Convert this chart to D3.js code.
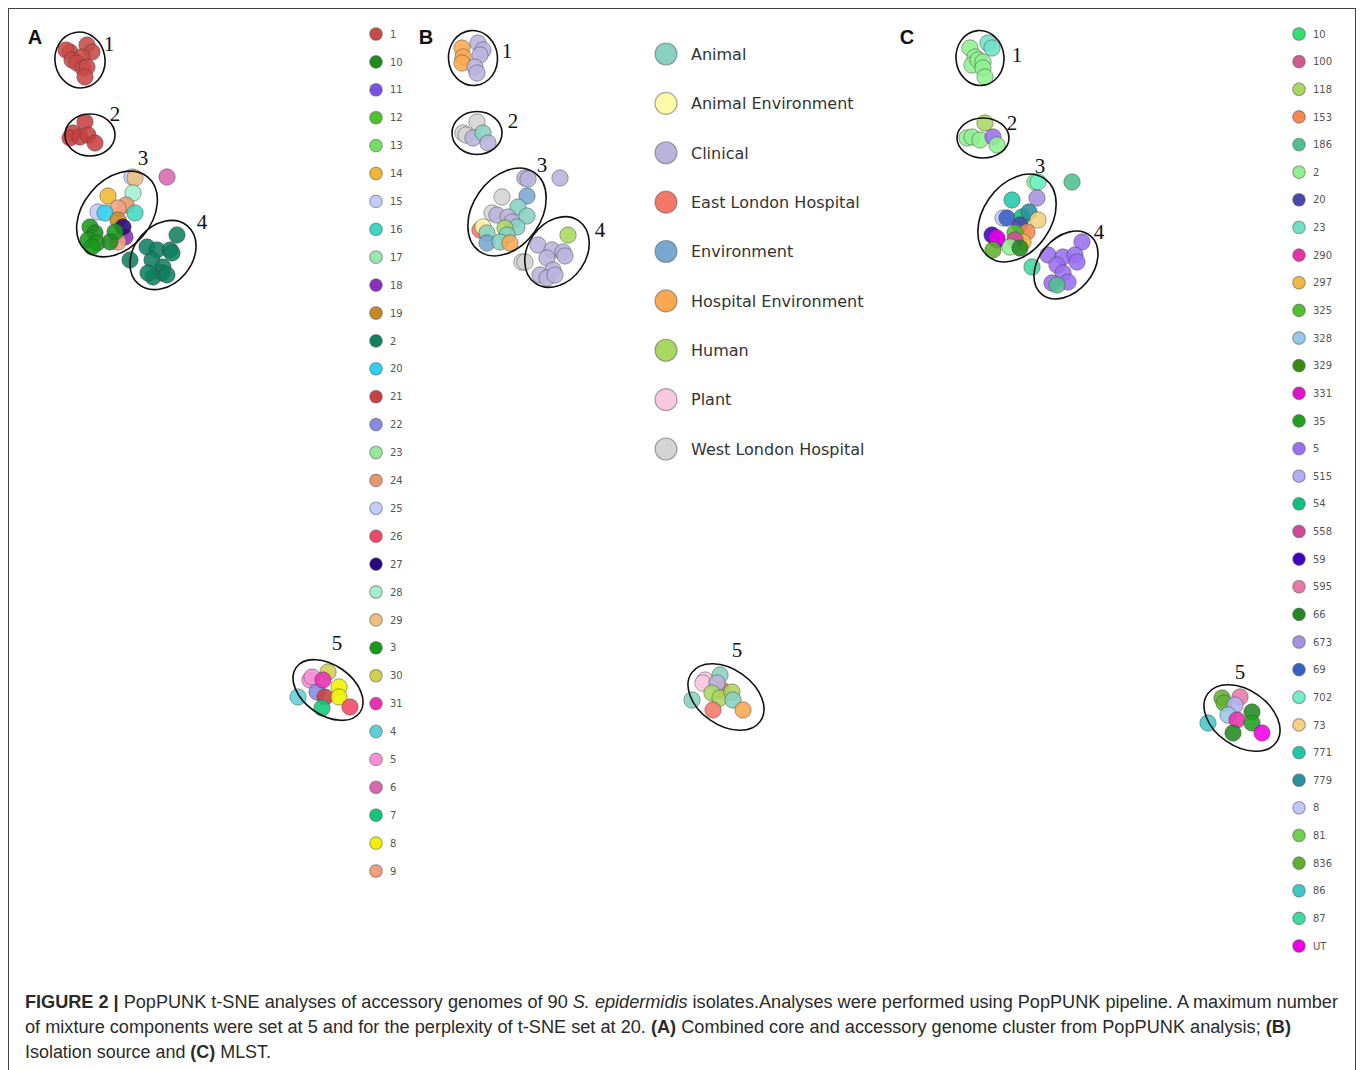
<!DOCTYPE html>
<html><head><meta charset="utf-8">
<script src="https://cdn.jsdelivr.net/npm/d3@7/dist/d3.min.js"></script>
<style>body{margin:0;background:#fff}</style>
</head><body>
<svg id="fig" width="1360" height="1070"></svg>
<script>
// ---------------- DATA ----------------
const panelLabels = ["A", "B", "C"];

// Panel A: PopPUNK cluster legend
const categoriesA = ["1","10","11","12","13","14","15","16","17","18","19","2","20","21","22","23","24","25","26","27","28","29","3","30","31","4","5","6","7","8","9"];
const colorsA = ["#c94a48","#1e8a1e","#7a50e8","#50c030","#72e062","#f0b830","#c2ccf5","#40d8c0","#98e8b0","#8a30b8","#c88a20","#108060","#30d0f0","#c84040","#8a88e0","#98e898","#e8986a","#c0d0f8","#f04868","#2a0880","#a0f0d0","#edc080","#1a9a1a","#d0d050","#e830b0","#60d0d8","#f890d8","#d868b0","#10c878","#f0f000","#f0a080"];

// Panel B: isolation source legend
const categoriesB = ["Animal","Animal Environment","Clinical","East London Hospital","Environment","Hospital Environment","Human","Plant","West London Hospital"];
const colorsB = ["#88d0c0","#fafaa8","#bab4dc","#f47868","#78a8d0","#f8a850","#a8d860","#f8c8e0","#d4d4d4"];

// Panel C: MLST legend
const categoriesC = ["10","100","118","153","186","2","20","23","290","297","325","328","329","331","35","5","515","54","558","59","595","66","673","69","702","73","771","779","8","81","836","86","87","UT"];
const colorsC = ["#30e070","#d05890","#a8d860","#f88850","#50c090","#90f090","#4848a8","#70e0c8","#e830a8","#f0b840","#50c030","#98c8e8","#3a8a10","#e010d0","#20a020","#9a70f0","#b0b0f0","#10c080","#d04898","#4000c0","#e878a8","#208a20","#a890e0","#3a60c8","#70f0c8","#f4d080","#20c8a8","#2a90a0","#c0c8f8","#70d050","#60b030","#40c8c8","#40d8a0","#f000e8"];

// t-SNE coordinates [tsne1, tsne2, category]
const pointsA = [
  [2.0,2.2,"1"],[3.7,1.5,"1"],[4.2,2.2,"1"],[1.6,2.0,"1"],[2.2,3.0,"1"],[3.2,2.7,"1"],[2.7,3.3,"1"],[3.3,3.8,"1"],[3.7,3.7,"1"],[3.5,4.7,"1"],
  [3.5,9.2,"21"],[2.3,10.3,"21"],[2.0,10.8,"21"],[3.0,10.7,"21"],[3.8,10.5,"21"],[4.5,11.3,"21"],
  [8.2,14.7,"25"],[8.5,14.8,"29"],[11.7,14.7,"6"],[5.8,16.6,"14"],[8.3,16.3,"28"],[7.6,17.5,"24"],[6.8,17.8,"9"],[4.8,18.2,"15"],[5.5,18.3,"20"],[8.5,18.3,"16"],[6.8,19.0,"19"],[7.5,20.7,"18"],[7.3,19.7,"27"],[6.8,21.2,"9"],
  [4.0,19.7,"3"],[4.5,20.3,"10"],[3.8,21.0,"3"],[4.7,21.3,"3"],[6.5,20.2,"3"],[6.0,21.2,"10"],[4.2,21.7,"3"],
  [8.0,23.0,"2"],[9.7,21.7,"2"],[10.7,22.0,"2"],[12.0,22.0,"2"],[12.7,20.5,"2"],[10.2,23.0,"2"],[11.3,23.7,"2"],[11.2,24.3,"2"],[10.3,24.7,"2"],[11.7,24.5,"2"],[9.8,24.3,"2"],[12.2,22.3,"2"],
  [24.8,66.7,"4"],[26.0,65.0,"5"],[26.2,64.7,"5"],[27.8,64.2,"30"],[26.7,66.2,"22"],[27.3,65.0,"31"],[27.5,66.7,"21"],[28.9,65.7,"8"],[28.9,66.7,"8"],[27.2,67.8,"7"],[30.0,67.7,"26"]
];
const pointsB = [
  [2.2,1.8,"Hospital Environment"],[2.3,2.7,"Hospital Environment"],[2.2,3.3,"Hospital Environment"],
  [3.8,1.3,"Clinical"],[4.3,2.0,"Clinical"],[4.0,2.5,"Clinical"],[3.5,3.7,"Clinical"],[3.7,4.3,"Clinical"],
  [3.7,9.2,"West London Hospital"],[2.3,10.3,"West London Hospital"],[2.6,10.5,"West London Hospital"],[3.3,10.8,"Clinical"],[4.3,10.3,"Animal"],[4.8,11.3,"Clinical"],
  [8.5,14.8,"Clinical"],[8.8,14.9,"Clinical"],[12.0,14.8,"Clinical"],[6.2,16.7,"West London Hospital"],[8.7,16.6,"Environment"],[5.2,18.3,"West London Hospital"],[5.7,18.5,"Clinical"],[7.8,17.7,"Animal"],[8.7,18.6,"Animal"],[6.8,18.7,"Clinical"],[7.2,19.2,"Clinical"],[7.7,19.7,"Animal"],
  [4.0,20.0,"East London Hospital"],[4.3,19.7,"Animal Environment"],[4.7,20.3,"Animal"],[6.5,19.8,"Human"],[6.7,20.5,"Animal"],[4.7,21.3,"Environment"],[6.0,21.2,"Animal"],[7.0,21.3,"Hospital Environment"],
  [12.8,20.5,"Human"],[9.8,21.5,"Clinical"],[11.2,22.0,"Clinical"],[12.3,22.2,"Clinical"],[10.7,22.8,"Clinical"],[12.5,22.6,"Clinical"],[8.2,23.2,"West London Hospital"],[8.5,23.2,"West London Hospital"],[11.3,24.0,"Clinical"],[10.0,24.5,"Clinical"],[10.7,24.8,"Clinical"],[11.5,24.5,"Clinical"],
  [25.2,67.0,"Animal"],[26.5,65.0,"Plant"],[26.3,65.3,"Plant"],[28.0,64.5,"Animal"],[28.2,66.0,"East London Hospital"],[27.7,65.3,"Clinical"],[27.2,66.3,"Human"],[28.0,66.8,"Human"],[29.2,66.2,"Human"],[29.3,67.0,"Animal"],[27.3,68.0,"East London Hospital"],[30.3,68.0,"Hospital Environment"]
];
const pointsC = [
  [2.0,1.8,"2"],[2.5,2.7,"2"],[2.2,3.5,"2"],[2.8,3.0,"2"],[3.3,3.2,"2"],[3.3,3.8,"2"],[3.5,4.7,"2"],[3.8,1.3,"23"],[4.2,1.8,"23"],
  [3.5,9.3,"118"],[1.7,10.8,"2"],[2.2,10.7,"2"],[3.0,11.0,"2"],[4.3,10.7,"5"],[4.7,11.5,"2"],
  [8.5,15.2,"2"],[8.8,15.2,"702"],[12.2,15.2,"186"],[6.2,17.0,"771"],[8.7,16.8,"673"],[5.3,18.8,"8"],[5.7,18.8,"69"],[7.2,18.7,"54"],[7.9,18.2,"779"],[8.8,19.0,"73"],[7.0,19.5,"20"],[7.7,20.2,"153"],
  [4.2,20.5,"59"],[4.7,21.0,"59"],[4.7,20.8,"UT"],[6.5,20.3,"325"],[7.3,21.2,"297"],[6.5,21.0,"558"],[6.0,21.7,"2"],[4.3,22.0,"836"],[7.0,21.8,"66"],
  [13.2,21.2,"5"],[9.8,22.5,"5"],[11.3,22.7,"5"],[12.5,22.5,"5"],[12.7,23.2,"5"],[10.7,23.5,"5"],[8.2,23.7,"87"],[11.3,24.3,"5"],[11.8,25.2,"5"],[10.2,25.3,"5"],[10.7,25.5,"186"],
  [25.8,69.3,"86"],[27.2,66.8,"836"],[27.4,67.3,"836"],[29.0,66.7,"595"],[28.5,67.5,"515"],[27.8,68.5,"328"],[28.7,69.0,"290"],[30.2,68.2,"66"],[30.2,69.3,"35"],[28.3,70.3,"66"],[31.2,70.3,"UT"]
];

// cluster outlines [centre1, centre2, semi-axis1, semi-axis2, tilt(deg), label, label1, label2]
const clustersA = [
  [3.0,3.0,2.5,2.8,-10,"1",5.9,1.4],
  [4.0,10.5,2.5,2.1,0,"2",6.5,8.4],
  [6.7,18.4,4.8,3.4,-50,"3",9.3,12.8],
  [11.3,22.5,3.8,2.9,-50,"4",15.2,19.2],
  [27.8,66.0,3.9,2.5,35,"5",28.7,61.3]
];
const clustersB = [
  [3.3,2.8,2.45,2.75,-5,"1",6.7,2.1],
  [3.7,10.3,2.5,2.15,0,"2",7.3,9.1],
  [6.7,18.2,4.8,3.4,-55,"3",10.2,13.5],
  [11.7,22.2,3.8,2.9,-55,"4",16.0,20.0],
  [28.6,66.7,4.2,2.8,35,"5",29.7,62.0]
];
const clustersC = [
  [3.0,2.8,2.4,2.75,-5,"1",6.7,2.5],
  [3.3,10.8,2.6,2.0,0,"2",6.2,9.3],
  [6.7,18.8,4.8,3.4,-55,"3",9.0,13.6],
  [11.6,23.5,3.8,2.7,-50,"4",14.9,20.2],
  [29.2,68.8,4.2,2.8,35,"5",29.0,64.2]
];

// caption segments [text, style]
const captionLines = [
  [["FIGURE 2 | ","b"],["PopPUNK t-SNE analyses of accessory genomes of 90 ",""],["S. epidermidis","i"],[" isolates.Analyses were performed using PopPUNK pipeline. A maximum number",""]],
  [["of mixture components were set at 5 and for the perplexity of t-SNE set at 20. ",""],["(A)","b"],[" Combined core and accessory genome cluster from PopPUNK analysis; ",""],["(B)","b"]],
  [["Isolation source and ",""],["(C)","b"],[" MLST.",""]]
];

// ---------------- DRAW ----------------
const svg = d3.select("#fig");
svg.append("rect").attr("x",8.5).attr("y",8.5).attr("width",1347).attr("height",1100)
  .attr("fill","none").attr("stroke","#444").attr("stroke-width",1);

const panels = [
  {label:"A", lx:35, ox:50, oy:30, points:pointsA, clusters:clustersA, cats:categoriesA, colors:colorsA,
   leg:{x:376, y0:34, y1:871, r:6.3, tx:390, fs:10, font:"'DejaVu Sans', sans-serif", fill:"#555"}},
  {label:"B", lx:426, ox:440, oy:30, points:pointsB, clusters:clustersB, cats:categoriesB, colors:colorsB,
   leg:{x:666, y0:54, y1:449, r:11, tx:691, fs:16, font:"'DejaVu Sans', sans-serif", fill:"#333"}},
  {label:"C", lx:907, ox:950, oy:30, points:pointsC, clusters:clustersC, cats:categoriesC, colors:colorsC,
   leg:{x:1299, y0:34, y1:946, r:6.3, tx:1313, fs:10, font:"'DejaVu Sans', sans-serif", fill:"#555"}}
];

panels.forEach(p => {
  const x = d3.scaleLinear().domain([0,32]).range([p.ox, p.ox+320]);
  const y = d3.scaleLinear().domain([0,72]).range([p.oy, p.oy+720]);
  const color = d3.scaleOrdinal().domain(p.cats).range(p.colors);
  const g = svg.append("g");

  g.append("text").attr("x",p.lx).attr("y",44).attr("text-anchor","middle")
    .attr("font-family","'Liberation Sans', Arial, sans-serif").attr("font-weight","bold")
    .attr("font-size",20).attr("fill","#111").text(p.label);

  g.selectAll("circle.pt").data(p.points).join("circle").attr("class","pt")
    .attr("cx", d => x(d[0])).attr("cy", d => y(d[1])).attr("r", 8.2)
    .attr("fill", d => color(d[2])).attr("fill-opacity", 0.88)
    .attr("stroke", "rgba(60,60,60,0.45)").attr("stroke-width", 1);

  g.selectAll("ellipse").data(p.clusters).join("ellipse")
    .attr("transform", d => `translate(${x(d[0])},${y(d[1])}) rotate(${d[4]})`)
    .attr("rx", d => x(d[2]) - x(0)).attr("ry", d => y(d[3]) - y(0))
    .attr("fill","none").attr("stroke","#111").attr("stroke-width",1.6);

  g.selectAll("text.cl").data(p.clusters).join("text").attr("class","cl")
    .attr("x", d => x(d[6])).attr("y", d => y(d[7])).attr("dy","0.35em")
    .attr("text-anchor","middle").attr("font-family","'Liberation Serif', 'Times New Roman', serif")
    .attr("font-size",21).attr("fill","#111").text(d => d[5]);

  const ly = d3.scalePoint().domain(p.cats).range([p.leg.y0, p.leg.y1]);
  const lg = g.append("g");
  lg.selectAll("circle").data(p.cats).join("circle")
    .attr("cx", p.leg.x).attr("cy", d => ly(d)).attr("r", p.leg.r)
    .attr("fill", d => color(d)).attr("stroke","rgba(90,90,90,0.5)").attr("stroke-width",1.2);
  lg.selectAll("text").data(p.cats).join("text")
    .attr("x", p.leg.tx).attr("y", d => ly(d)).attr("dy","0.36em")
    .attr("font-family", p.leg.font).attr("font-size", p.leg.fs).attr("fill", p.leg.fill)
    .text(d => d);
});

// caption
const capY = [1008, 1033, 1058];
const capW = [1313, 1266, 246];
captionLines.forEach((segs, i) => {
  const t = svg.append("text").attr("x",25).attr("y",capY[i])
    .attr("font-family","'Liberation Sans Narrow', 'Liberation Sans', Arial, sans-serif")
    .attr("font-size",18).attr("fill","#2a2a2a")
    .attr("textLength", capW[i]).attr("lengthAdjust","spacingAndGlyphs");
  segs.forEach(s => {
    t.append("tspan").text(s[0])
      .attr("font-weight", s[1]==="b" ? "bold" : null)
      .attr("font-style", s[1]==="i" ? "italic" : null);
  });
});
</script>
</body></html>
